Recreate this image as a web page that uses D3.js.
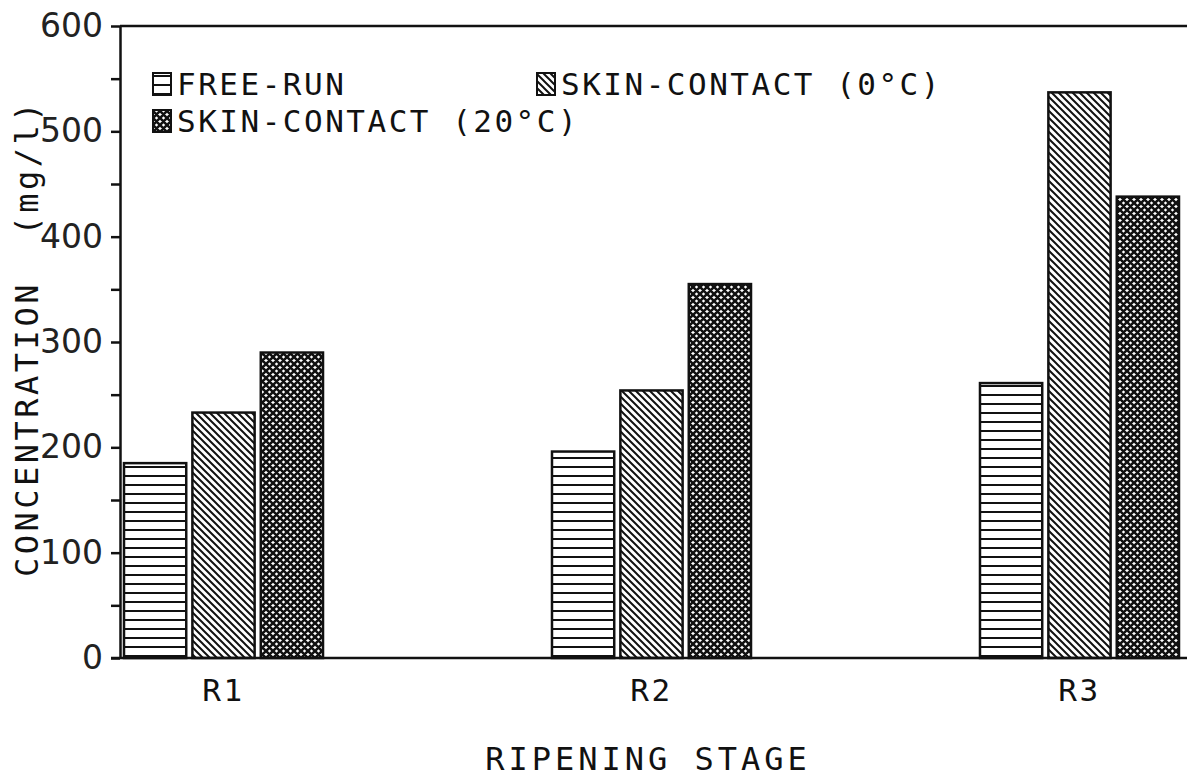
<!DOCTYPE html>
<html>
<head>
<meta charset="utf-8">
<script src="https://cdn.jsdelivr.net/npm/d3@7"></script>
<style>
  body { margin: 0; background: #fff; }
  svg { display: block; }
  .mono { font-family: "DejaVu Sans Mono", monospace; fill: #111; white-space: pre; }
</style>
</head>
<body>
<svg id="chart" width="1187" height="778"></svg>
<script>
// values (mg/l)
var stages = ["R1", "R2", "R3"];
var seriesKeys = ["free", "skin0", "skin20"];
var seriesLabels = ["FREE-RUN", "SKIN-CONTACT (0°C)", "SKIN-CONTACT (20°C)"];
var freeRun = [185, 196, 261];
var skin0 = [233, 254, 537];
var skin20 = [290, 355, 438];
var yTicks = [0, 50, 100, 150, 200, 250, 300, 350, 400, 450, 500, 550, 600];

var values = { free: freeRun, skin0: skin0, skin20: skin20 };
var fills = { free: "url(#hlines)", skin0: "url(#diag)", skin20: "url(#cross)" };

var svg = d3.select("#chart");
var plotLeft = 120, plotRight = 1190, plotTop = 26, plotBottom = 658;

// hatch patterns
var defs = svg.append("defs");

var hl = defs.append("pattern").attr("id", "hlines")
  .attr("patternUnits", "userSpaceOnUse").attr("width", 10).attr("height", 9);
hl.append("rect").attr("width", 10).attr("height", 9).attr("fill", "#fff");
hl.append("line").attr("x1", 0).attr("x2", 10).attr("y1", 8).attr("y2", 8)
  .attr("stroke", "#111").attr("stroke-width", 2);

var dg = defs.append("pattern").attr("id", "diag")
  .attr("patternUnits", "userSpaceOnUse").attr("width", 7).attr("height", 7);
dg.append("rect").attr("width", 7).attr("height", 7).attr("fill", "#fff");
dg.append("path").attr("d", "M0,0L7,7M-2,5L2,9M5,-2L9,2")
  .attr("stroke", "#111").attr("stroke-width", 2);

var cr = defs.append("pattern").attr("id", "cross")
  .attr("patternUnits", "userSpaceOnUse").attr("width", 7).attr("height", 7);
cr.append("rect").attr("width", 7).attr("height", 7).attr("fill", "#fff");
cr.append("path").attr("d", "M0,0L7,7M-2,5L2,9M5,-2L9,2M0,7L7,0M-2,2L2,-2M5,9L9,5")
  .attr("stroke", "#111").attr("stroke-width", 2.6);

// scales
var y = d3.scaleLinear().domain([0, 600]).range([plotBottom, plotTop]);

var x0 = d3.scaleBand().domain(stages)
  .range([124, 1179]).paddingInner(0.535).paddingOuter(0);

var x1 = d3.scaleBand().domain(seriesKeys)
  .range([0, x0.bandwidth()]).paddingInner(0.09);

// bars
var groups = svg.append("g").selectAll("g")
  .data(seriesKeys).join("g")
  .attr("fill", function(k) { return fills[k]; });

groups.selectAll("rect")
  .data(function(k) { return stages.map(function(s, i) { return { key: k, stage: s, v: values[k][i] }; }); })
  .join("rect")
  .attr("x", function(d) { return x0(d.stage) + x1(d.key); })
  .attr("y", function(d) { return y(d.v); })
  .attr("width", x1.bandwidth())
  .attr("height", function(d) { return y(0) - y(d.v); })
  .attr("stroke", "#111")
  .attr("stroke-width", 2.5);

// y axis
var yAxis = d3.axisLeft(y)
  .tickValues(yTicks)
  .tickSize(9)
  .tickSizeOuter(0)
  .tickPadding(8)
  .tickFormat(function(d) { return d % 100 === 0 ? d : ""; });

var ya = svg.append("g").attr("transform", "translate(" + plotLeft + ",0)").call(yAxis);
ya.select(".domain").attr("stroke", "#111").attr("stroke-width", 2.5);
ya.selectAll(".tick line").attr("stroke", "#111").attr("stroke-width", 2.5);
ya.selectAll(".tick text")
  .attr("font-family", "DejaVu Sans, sans-serif")
  .attr("font-size", 33)
  .attr("fill", "#222");

// frame lines: top and baseline
svg.append("line")
  .attr("x1", plotLeft).attr("x2", plotRight).attr("y1", y(600)).attr("y2", y(600))
  .attr("stroke", "#111").attr("stroke-width", 2.5);
svg.append("line")
  .attr("x1", plotLeft - 9).attr("x2", plotRight).attr("y1", y(0)).attr("y2", y(0))
  .attr("stroke", "#111").attr("stroke-width", 2.5);

// x axis labels
var xa = svg.append("g").attr("transform", "translate(0," + plotBottom + ")")
  .call(d3.axisBottom(x0).tickSize(0).tickPadding(21));
xa.select(".domain").remove();
xa.selectAll(".tick text")
  .attr("class", "mono")
  .attr("font-size", 31)
  .attr("letter-spacing", 2.5)
  .attr("fill", "#111");

// axis titles
svg.append("text")
  .attr("class", "mono")
  .attr("x", 648).attr("y", 770)
  .attr("text-anchor", "middle")
  .attr("font-size", 32)
  .attr("letter-spacing", 4)
  .text("RIPENING STAGE");

svg.append("text")
  .attr("class", "mono")
  .attr("transform", "translate(38,338) rotate(-90)")
  .attr("text-anchor", "middle")
  .attr("font-size", 32)
  .attr("letter-spacing", 3.5)
  .text("CONCENTRATION  (mg/l)");

// legend
var legendPos = [
  { x: 153, y: 95 },
  { x: 537, y: 95 },
  { x: 153, y: 132 }
];
var legend = svg.append("g").selectAll("g")
  .data(seriesKeys).join("g")
  .attr("transform", function(k, i) { return "translate(" + legendPos[i].x + "," + legendPos[i].y + ")"; });

legend.append("rect")
  .attr("x", 0).attr("y", -22)
  .attr("width", 18).attr("height", 22)
  .attr("fill", function(k) { return fills[k]; })
  .attr("stroke", "#111").attr("stroke-width", 2);

legend.append("text")
  .attr("class", "mono")
  .attr("x", 24).attr("y", 0)
  .attr("font-size", 31)
  .attr("letter-spacing", 2.5)
  .text(function(k, i) { return seriesLabels[i]; });
</script>
</body>
</html>
